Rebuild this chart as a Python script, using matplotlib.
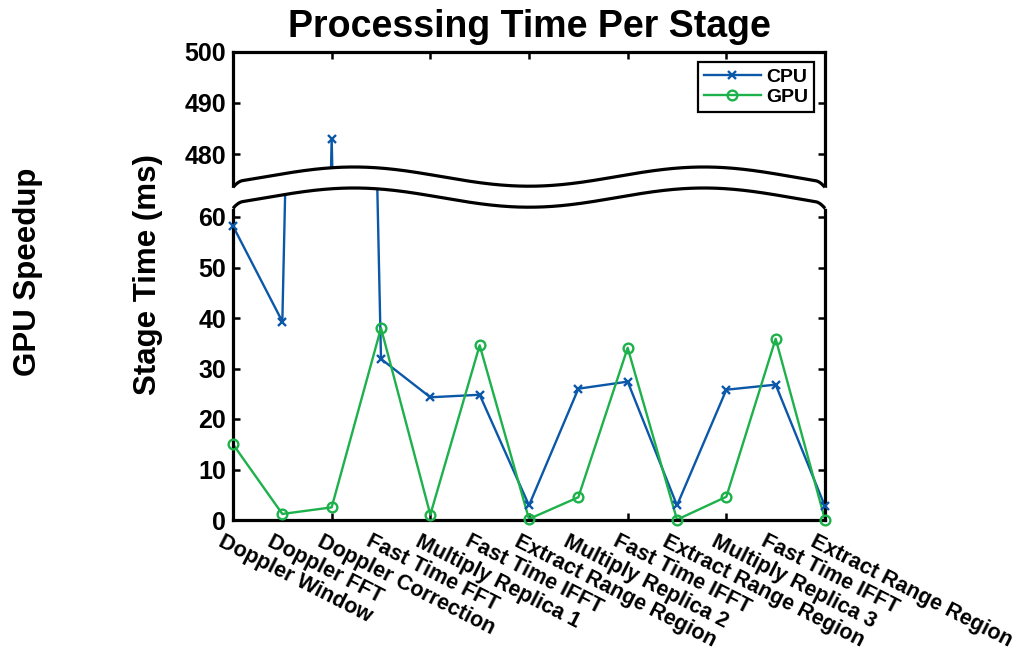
import numpy as np
import matplotlib
matplotlib.use('Agg')
import matplotlib.pyplot as plt

#--------------------------------------------------------------------------#
# Data (ms per stage)
#--------------------------------------------------------------------------#
stages = ['Doppler Window', 'Doppler FFT', 'Doppler Correction', 'Fast Time FFT',
          'Multiply Replica 1', 'Fast Time IFFT', 'Extract Range Region',
          'Multiply Replica 2', 'Fast Time IFFT', 'Extract Range Region',
          'Multiply Replica 3', 'Fast Time IFFT', 'Extract Range Region']
cpu_ms = [58.2, 39.3, 483.0, 31.9, 24.3, 24.8, 2.9, 26.0, 27.4, 2.9, 25.8, 26.8, 2.7]
gpu_ms = [15.0, 1.2, 2.5, 38.0, 1.05, 34.6, 0.2, 4.5, 34.1, 0.07, 4.6, 35.9, 0.07]
top_ticks = [480, 490, 500]
bot_ticks = [0, 10, 20, 30, 40, 50, 60]

CPU_COL = '#0b57a8'
GPU_COL = '#1db14b'

plt.rcParams['font.family'] = ['Liberation Sans', 'DejaVu Sans']
plt.rcParams['font.weight'] = 'bold'

W, H = 1021, 654
left, right = 233.0, 825.0
top_y0, brk, bot_y1 = 51.7, 187.5, 520.0
top_scale, bot_scale = 5.115, 5.05   # px per ms

fig = plt.figure(figsize=(W / 100, H / 100), dpi=100)
fig.patch.set_facecolor('white')

ax_top = fig.add_axes([left / W, 1 - brk / H, (right - left) / W, (brk - top_y0) / H])
ax_bot = fig.add_axes([left / W, 1 - bot_y1 / H, (right - left) / W, (bot_y1 - brk) / H])

ax_top.set_ylim(500 - (brk - top_y0) / top_scale, 500)
ax_bot.set_ylim(0, (bot_y1 - brk) / bot_scale)

x = np.arange(len(stages))
cpu = np.array(cpu_ms)
gpu = np.array(gpu_ms)
for ax in (ax_top, ax_bot):
    lo, hi = ax.get_ylim()
    ax.plot(x, cpu, '-', color=CPU_COL, lw=1.7)
    ax.plot(x, gpu, '-', color=GPU_COL, lw=1.7)
    # markers are not clipped at the frame (points sit on the edges)
    m = (cpu >= lo) & (cpu <= hi)
    ax.plot(x[m], cpu[m], 'x', color=CPU_COL, ms=5.5, mew=1.7, clip_on=False, zorder=3)
    m = (gpu >= lo) & (gpu <= hi)
    ax.plot(x[m], gpu[m], 'o', color=GPU_COL, ms=7, mew=1.7, mfc='none', clip_on=False, zorder=3)
    ax.set_xlim(0, len(stages) - 1)
    ax.set_xticks([2, 4, 6, 8, 10])
    ax.set_xticklabels([])
    for s in ax.spines.values():
        s.set_linewidth(2.3)
    ax.tick_params(direction='in', length=5, width=1.8, labelsize=18,
                   left=True, right=True, pad=5)

ax_top.set_yticks(top_ticks)
ax_top.spines['bottom'].set_visible(False)
ax_top.tick_params(axis='x', bottom=False, top=True)

ax_bot.set_yticks(bot_ticks)
ax_bot.spines['top'].set_visible(False)
ax_bot.tick_params(axis='x', bottom=True, top=False)

# legend entries built from the same styles
ax_top.plot([], [], '-x', color=CPU_COL, lw=1.7, ms=5.5, mew=1.7, label='CPU')
ax_top.plot([], [], '-o', color=GPU_COL, lw=1.7, ms=7, mew=1.7, mfc='none', label='GPU')
leg = ax_top.legend(loc='upper right', fontsize=14, frameon=True, fancybox=False,
                    framealpha=1, edgecolor='black', handlelength=2.9,
                    borderaxespad=0.55, borderpad=0.3, labelspacing=0.12,
                    handletextpad=0.3)
leg.get_frame().set_linewidth(1.6)

# rotated stage labels under each point
for i, s in enumerate(stages):
    ax_bot.annotate(s, xy=(i, 0), xycoords=('data', 'axes fraction'),
                    xytext=(-6, -8), textcoords='offset points',
                    rotation=-27, rotation_mode='anchor', ha='left', va='top',
                    fontsize=15.5, fontweight='bold')

# wavy axis break drawn over both axes
ov = fig.add_axes([0, 0, 1, 1])
ov.set_xlim(0, W)
ov.set_ylim(H, 0)
ov.axis('off')
xs = np.linspace(left, right, 500)
hook = 5.3 * (np.clip(1 - (xs - left) / 10, 0, 1) ** 2 + np.clip(1 - (right - xs) / 10, 0, 1) ** 2)
upper = 176.6 + 9.6 * np.cos(2 * np.pi * (xs - 529) / 350) + hook
lower = upper + 21
xs_f = np.concatenate([[left - 3], xs, [right + 3]])
up_f = np.concatenate([[upper[0]], upper, [upper[-1]]])
lo_f = np.concatenate([[lower[0]], lower, [lower[-1]]])
ov.fill_between(xs_f, up_f, lo_f, color='white', lw=0)
ov.plot(xs, upper, color='black', lw=2.3, solid_capstyle='butt')
ov.plot(xs, lower, color='black', lw=2.3, solid_capstyle='butt')

fig.text(529 / W, 1 - 27 / H, 'Processing Time Per Stage', ha='center', va='center',
         fontsize=27, fontweight='bold')
fig.text(148 / W, 1 - 275 / H, 'Stage Time (ms)', rotation=90, ha='center', va='center',
         fontsize=22.5, fontweight='bold')
fig.text(28 / W, 1 - 272 / H, 'GPU Speedup', rotation=90, ha='center', va='center',
         fontsize=22.5, fontweight='bold')

fig.savefig('out.png', dpi=100)
